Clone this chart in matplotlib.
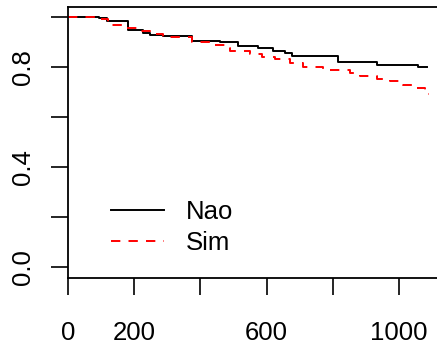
import matplotlib
matplotlib.use("Agg")
import matplotlib.pyplot as plt

# Kaplan-Meier step data
nao_time = [0, 94, 118, 181, 227, 248, 287, 375, 459, 514, 574, 619, 656, 677, 816, 934, 1057, 1085]
nao_surv = [1.0, 0.995, 0.984, 0.948, 0.936, 0.928, 0.921, 0.901, 0.897, 0.884, 0.873, 0.864, 0.855, 0.841, 0.817, 0.807, 0.797, 0.797]

sim_time = [0, 97, 121, 133, 166, 218, 248, 287, 375, 438, 474, 489, 550, 586, 625, 671, 710, 770, 852, 882, 934, 973, 1012, 1042, 1079, 1092]
sim_surv = [1.0, 0.992, 0.975, 0.965, 0.955, 0.941, 0.931, 0.917, 0.899, 0.888, 0.875, 0.864, 0.851, 0.839, 0.831, 0.815, 0.798, 0.788, 0.775, 0.765, 0.751, 0.742, 0.728, 0.715, 0.691, 0.691]

x_ticks = [0, 200, 400, 600, 800, 1000]
x_labels = ["0", "200", "", "600", "", "1000"]
y_ticks = [0.0, 0.2, 0.4, 0.6, 0.8, 1.0]
y_labels = ["0.0", "", "0.4", "", "0.8", ""]
legend_labels = ["Nao", "Sim"]

plt.rcParams['font.family'] = ['Liberation Sans', 'DejaVu Sans']
W, H = 437, 353
fig = plt.figure(figsize=(W / 100, H / 100), dpi=100)
left_px, right_px, top_px, bottom_px = 68, 447, 6.5, 277.5
ax = fig.add_axes([left_px / W, 1 - bottom_px / H, (right_px - left_px) / W, (bottom_px - top_px) / H])

px_per_unit = (399 - 68) / 1000.0
ax.set_xlim(0, (right_px - left_px) / px_per_unit)
ax.set_ylim(-0.04, 1.04)

ax.step(nao_time, nao_surv, where='post', color='black', lw=1.4, label=legend_labels[0])
ax.step(sim_time, sim_surv, where='post', color='red', lw=1.4, linestyle=(0, (4.8, 4.2)), label=legend_labels[1])

ax.set_xticks(x_ticks)
ax.set_xticklabels(x_labels)
ax.set_yticks(y_ticks)
ax.set_yticklabels(y_labels, rotation=90, va='center')
ax.tick_params(axis='both', direction='out', length=12, width=1.2, labelsize=18.5, colors='black')
ax.tick_params(axis='x', pad=19)
ax.tick_params(axis='y', pad=12)
for s in ax.spines.values():
    s.set_linewidth(1.3)

leg = ax.legend(frameon=False, fontsize=18.5, loc='upper left',
                bbox_to_anchor=(111 / W, 1 - 200 / H), bbox_transform=fig.transFigure,
                handlelength=2.05, handletextpad=0.85, labelspacing=0.28, borderpad=0, borderaxespad=0)

fig.savefig("out.png", dpi=100)
